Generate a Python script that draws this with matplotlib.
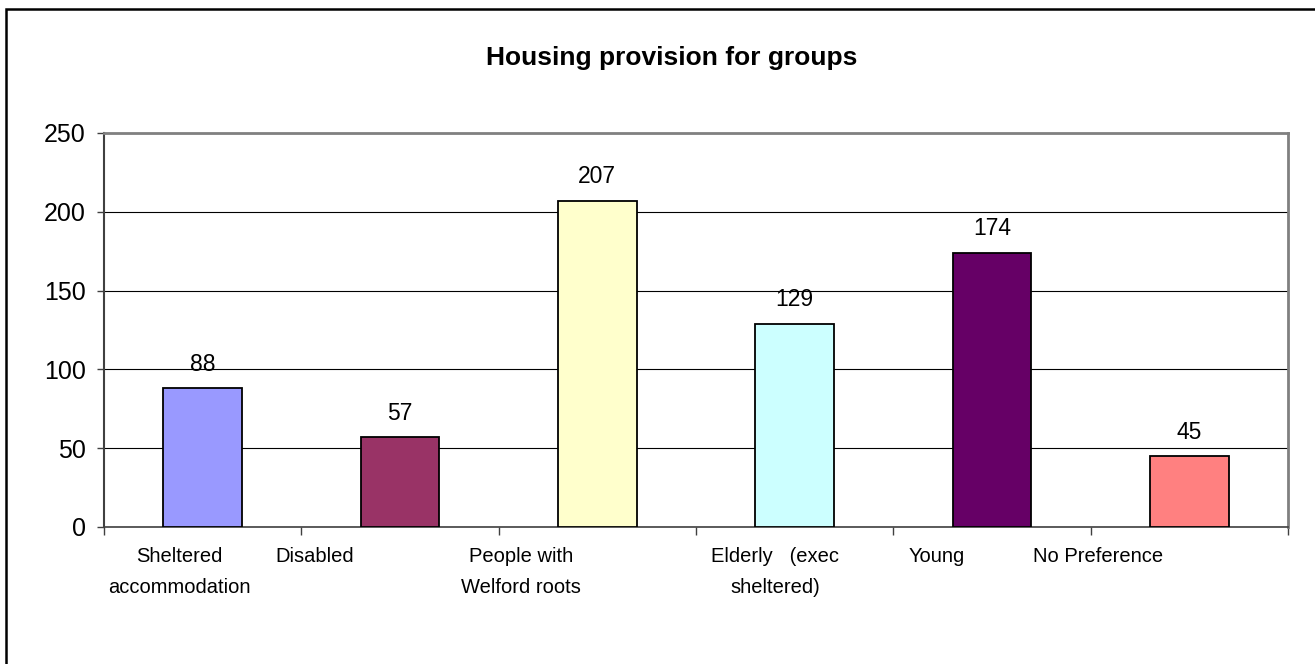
import numpy as np
import matplotlib
matplotlib.use("Agg")
import matplotlib.pyplot as plt
from matplotlib.patches import Rectangle
from matplotlib.transforms import blended_transform_factory

plt.rcParams['font.family'] = ['Liberation Sans', 'DejaVu Sans']

# data
groups = ["Sheltered\naccommodation", "Disabled", "People with\nWelford roots",
          "Elderly   (exec\nsheltered)", "Young", "No Preference"]
counts = [88, 57, 207, 129, 174, 45]
colours = ["#9999FF", "#993366", "#FFFFCC", "#CCFFFF", "#660066", "#FF8080"]
# Excel put the category labels a bit to the left of each bar
label_shift = [-0.12, -0.43, -0.385, -0.10, -0.28, -0.46]
yticks = [0, 50, 100, 150, 200, 250]

fig = plt.figure(figsize=(13.15, 6.64), dpi=100)
ax = fig.add_axes([104/1315, 1 - 527/664, (1288-104)/1315, (527-133)/664])

x = np.arange(len(groups))
bars = ax.bar(x, counts, width=0.4, color=colours, edgecolor="black", linewidth=1.3, zorder=3)

for b, v in zip(bars, counts):
    ax.annotate(str(v), (b.get_x() + b.get_width()/2, v), xytext=(0, 9),
                textcoords="offset points", ha="center", va="bottom", fontsize=16.5)

ax.set_xlim(-0.5, len(groups) - 0.5)
ax.set_ylim(0, 250)
ax.set_yticks(yticks)
ax.tick_params(axis="y", labelsize=18, length=5, width=1, color="#404040", pad=8)
ax.yaxis.grid(True, color="black", linewidth=0.8, zorder=0)
ax.set_axisbelow(True)

# category boundaries carry the ticks
ax.set_xticks(np.arange(len(groups) + 1) - 0.5)
ax.set_xticklabels([])
ax.tick_params(axis="x", length=6, width=1, color="#404040")

tr = blended_transform_factory(ax.transData, ax.transAxes)
for i, (g, dx) in enumerate(zip(groups, label_shift)):
    ax.text(i + dx, -0.052, g, transform=tr, ha="center", va="top",
            fontsize=14.5, linespacing=1.75)

ax.spines["left"].set_color("#404040")
ax.spines["left"].set_linewidth(1.5)
ax.spines["bottom"].set_color("#404040")
ax.spines["bottom"].set_linewidth(1.2)
ax.spines["top"].set_color("#808080")
ax.spines["top"].set_linewidth(2)
ax.spines["right"].set_color("#808080")
ax.spines["right"].set_linewidth(2)

fig.text(672/1315, 1 - 65/664, "Housing provision for groups", ha="center",
         va="baseline", fontsize=19, fontweight="bold")

# outer chart frame (cut off on the right and bottom)
fig.patches.append(Rectangle((6/1315, -0.1), 1.2, 1.1 - 9/664, transform=fig.transFigure,
                             fill=False, edgecolor="black", linewidth=1.8))

fig.savefig("out.png", dpi=100)
